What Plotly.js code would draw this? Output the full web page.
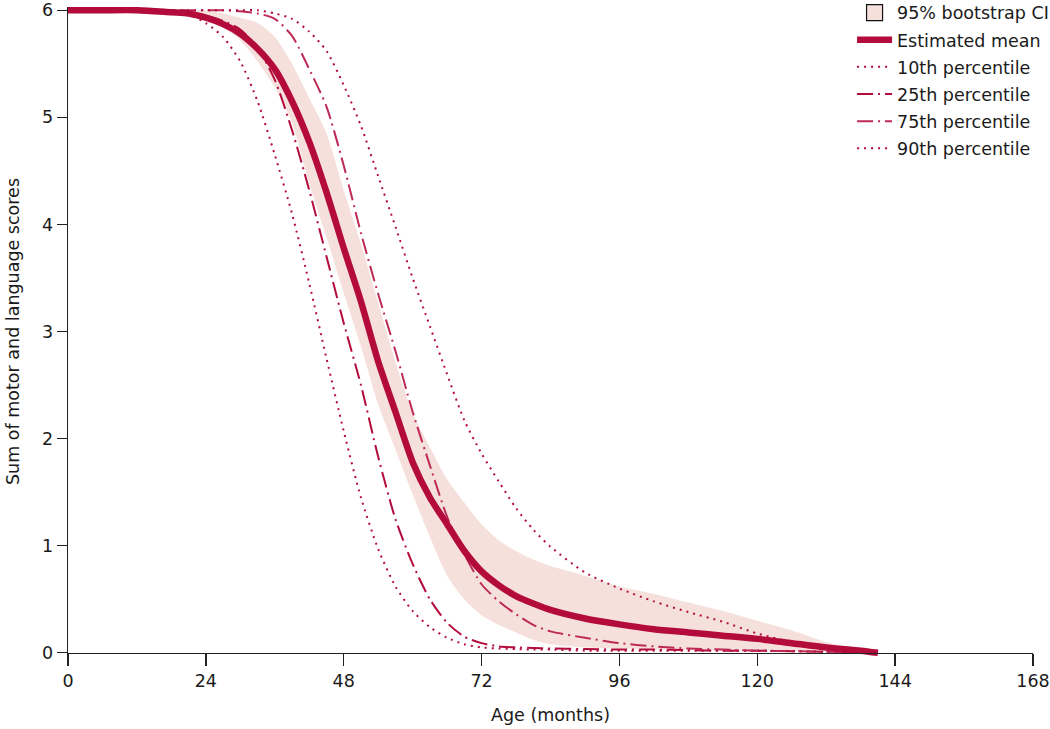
<!DOCTYPE html>
<html>
<head>
<meta charset="utf-8">
<script src="https://cdn.plot.ly/plotly-3.0.1.min.js"></script>
<style>html,body{margin:0;padding:0;background:#fff;}#chart{width:1050px;height:729px;}</style>
</head>
<body>
<div id="chart"></div>
<script>
const months = [0,6,12,18,21,24,27,30,33,36,39,42,45,48,51,54,57,60,63,66,69,72,75,78,81,84,90,96,102,108,114,120,126,132,138,141];
const meanScore = [6,6,6,5.98,5.97,5.93,5.87,5.78,5.64,5.45,5.15,4.77,4.3,3.78,3.28,2.72,2.25,1.78,1.45,1.2,0.95,0.76,0.63,0.53,0.46,0.4,0.32,0.265,0.22,0.19,0.16,0.13,0.09,0.05,0.02,0];
const ciLower = [6,6,6,6,5.97,5.92,5.84,5.72,5.52,5.28,4.95,4.38,3.88,3.36,2.86,2.32,1.9,1.48,1.08,0.72,0.5,0.35,0.26,0.19,0.12,0.08,0.05,0.04,0.03,0.03,0.02,0.02,0.02,0.01,0,0];
const ciUpper = [6,6,6,6,6,6,5.97,5.93,5.88,5.75,5.5,5.18,4.85,4.32,3.82,3.27,2.72,2.24,1.92,1.62,1.4,1.2,1.05,0.95,0.87,0.81,0.72,0.62,0.55,0.47,0.39,0.3,0.21,0.1,0.03,0];
const p10 = [6,6,6,5.99,5.96,5.88,5.75,5.52,5.15,4.65,4.1,3.45,2.75,2.07,1.45,0.97,0.62,0.39,0.24,0.14,0.08,0.05,0.04,0.035,0.03,0.03,0.02,0.02,0.02,0.02,0.02,0.02,0.015,0.01,0.005,0];
const p25 = [6,6,6,6,5.98,5.95,5.9,5.82,5.65,5.35,4.88,4.32,3.7,3.08,2.5,1.83,1.25,0.83,0.5,0.28,0.15,0.09,0.06,0.05,0.045,0.04,0.035,0.03,0.03,0.025,0.02,0.02,0.015,0.01,0.005,0];
const p75 = [6,6,6,6,6,6,6,5.99,5.97,5.92,5.76,5.45,5.1,4.55,3.92,3.35,2.82,2.25,1.75,1.27,0.92,0.64,0.48,0.36,0.26,0.2,0.14,0.09,0.06,0.04,0.03,0.02,0.015,0.01,0.005,0];
const p90 = [6,6,6,6,6,6,6,6,6,5.97,5.92,5.8,5.62,5.3,4.92,4.45,3.98,3.5,3.05,2.6,2.17,1.86,1.6,1.35,1.15,0.99,0.75,0.6,0.48,0.38,0.29,0.18,0.1,0.04,0.01,0];
const xTicks = [0,24,48,72,96,120,144,168];
const yTicks = [0,1,2,3,4,5,6];
const names = ['95% bootstrap CI','Estimated mean','10th percentile','25th percentile','75th percentile','90th percentile'];

const red = '#b30b3c';
const red2 = '#bd2a55';
const bandFill = '#f6e0dc';
const FONT = 'DejaVu Sans, sans-serif';
const dotDash = '2px,5px';
const dashDot = '16px,5px,2px,5px';
const spl = {shape:'spline', smoothing:0.7};

const traces = [
  {x: months, y: ciLower, type:'scatter', mode:'lines', line:{width:0, ...spl}, showlegend:false, hoverinfo:'skip', legendgroup:'band'},
  {x: months, y: ciUpper, type:'scatter', mode:'lines', fill:'tonexty', fillcolor: bandFill, line:{width:0, ...spl}, showlegend:false, hoverinfo:'skip', legendgroup:'band'},
  {x:[null], y:[null], type:'scatter', mode:'markers', name: names[0], legendrank:1, legendgroup:'g0',
   marker:{symbol:'square', size:16, color: bandFill, line:{color:'#111', width:1.2}}},
  {x: months, y: p10, type:'scatter', mode:'lines', name: names[2], legendrank:3, legendgroup:'g2', line:{color: red, width:2, dash: dotDash, ...spl}},
  {x: months, y: p25, type:'scatter', mode:'lines', name: names[3], legendrank:4, legendgroup:'g3', line:{color: red, width:2, dash: dashDot, ...spl}},
  {x: months, y: p75, type:'scatter', mode:'lines', name: names[4], legendrank:5, legendgroup:'g4', line:{color: red2, width:2, dash: dashDot, ...spl}},
  {x: months, y: p90, type:'scatter', mode:'lines', name: names[5], legendrank:6, legendgroup:'g5', line:{color: red, width:2, dash: dotDash, ...spl}},
  {x: months, y: meanScore, type:'scatter', mode:'lines', name: names[1], legendrank:2, legendgroup:'g1', line:{color: red, width:6.5, ...spl}}
];

const layout = {
  width:1050, height:729,
  margin:{l:68, r:17, t:7, b:73, autoexpand:false},
  paper_bgcolor:'#fff', plot_bgcolor:'#fff',
  font:{family: FONT, size:17.5, color:'#1a1a1a'},
  showlegend:true,
  legend:{x:0.8125, xanchor:'left', y:1.019, yanchor:'top', bgcolor:'rgba(0,0,0,0)', borderwidth:0,
          traceorder:'grouped', tracegroupgap:1.4,
          font:{family: FONT, size:17.5, color:'#1a1a1a'}, itemwidth:35},
  xaxis:{type:'linear', range:[0,168], tickvals: xTicks, ticktext: xTicks.map(String),
         anchor:'free', position: 0.03/6.06,
         showline:true, linecolor:'#222', linewidth:1.3, ticks:'outside', ticklen:12, tickwidth:1.3, tickcolor:'#222',
         showgrid:false, zeroline:false,
         title:{text:'Age (months)', font:{family: FONT, size:17.5, color:'#1a1a1a'}, standoff:18}},
  yaxis:{type:'linear', range:[-0.03, 6.03], tickvals: yTicks, ticktext: yTicks.map(String),
         showline:true, linecolor:'#222', linewidth:1.3, ticks:'outside', ticklen:10, tickwidth:1.3, tickcolor:'#222',
         showgrid:false, zeroline:false,
         title:{text:'Sum of motor and language scores', font:{family: FONT, size:17.5, color:'#1a1a1a'}, standoff:18}}
};

Plotly.newPlot('chart', traces, layout, {displayModeBar:false, staticPlot:true});
</script>
</body>
</html>
